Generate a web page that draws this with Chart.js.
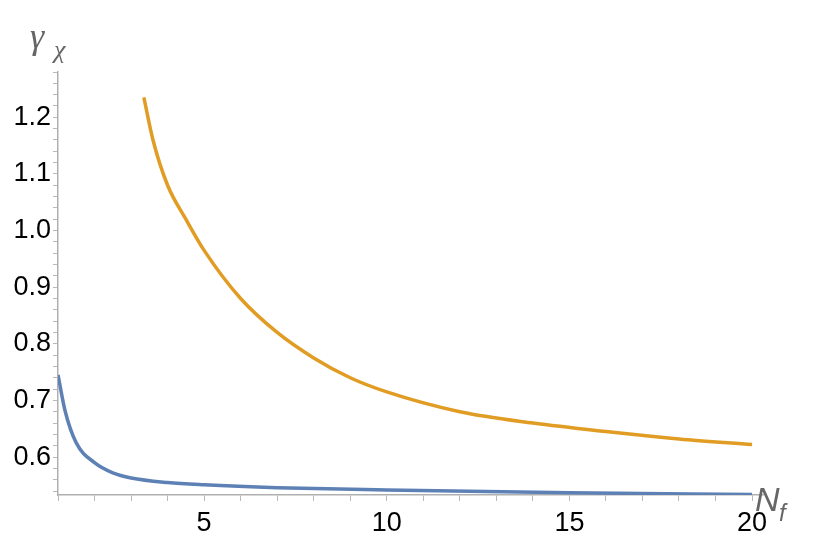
<!DOCTYPE html>
<html>
<head>
<meta charset="utf-8">
<script src="https://cdn.jsdelivr.net/npm/chart.js@4"></script>
<style>
  html, body { margin: 0; padding: 0; background: #fff; }
  #wrap { width: 830px; height: 546px; }
</style>
</head>
<body>
<div id="wrap"><canvas id="c" width="830" height="546"></canvas></div>
<script>
// Blue curve (lower)
const blueX = [1, 1.2, 1.5, 2, 2.5, 3, 4, 5, 7, 10, 15, 20];
const blueY = [0.745, 0.68, 0.625, 0.59, 0.572, 0.563, 0.555, 0.551, 0.546, 0.542, 0.537, 0.534];

// Orange curve (upper)
const orangeX = [3.35, 3.6, 4, 4.5, 5, 6, 7, 8, 9, 10, 12, 14, 16, 18, 20];
const orangeY = [1.235, 1.16, 1.08, 1.02, 0.965, 0.88, 0.82, 0.775, 0.74, 0.715, 0.68, 0.66, 0.645, 0.632, 0.622];

const xLabels = [5, 10, 15, 20];
const yLabels = [0.6, 0.7, 0.8, 0.9, 1.0, 1.1, 1.2];

function toPts(xs, ys) {
    return xs.map((x, i) => ({ x: x, y: ys[i] }));
}

// Axis titles drawn like Mathematica's AxesLabel
const axisTitles = {
    id: 'axisTitles',
    afterDraw(chart) {
        const ctx = chart.ctx;
        const a = chart.chartArea;
        ctx.save();
        ctx.fillStyle = '#666';
        ctx.font = 'italic 36px "Liberation Serif"';
        ctx.textBaseline = 'alphabetic';
        ctx.fillText('γ', a.left - 28, 48);
        ctx.font = 'italic 26px "Liberation Serif"';
        ctx.fillText('χ', a.left - 4, 58);
        ctx.font = 'italic 34px "Liberation Sans"';
        ctx.fillText('N', a.right - 8, a.bottom + 16);
        ctx.font = 'italic 24px "Liberation Sans"';
        ctx.fillText('f', a.right + 16, a.bottom + 26);
        ctx.restore();
    }
};

new Chart(document.getElementById('c'), {
    type: 'scatter',
    data: {
        datasets: [
            { data: toPts(blueX, blueY), showLine: true, borderColor: '#5e81b5', borderWidth: 3.5, pointRadius: 0, cubicInterpolationMode: 'monotone' },
            { data: toPts(orangeX, orangeY), showLine: true, borderColor: '#e19c24', borderWidth: 3.5, pointRadius: 0, cubicInterpolationMode: 'monotone' }
        ]
    },
    options: {
        responsive: false,
        animation: false,
        layout: { padding: { top: 72, right: 67, left: 0, bottom: 0 } },
        plugins: { legend: { display: false }, tooltip: { enabled: false } },
        scales: {
            x: {
                type: 'linear', min: 1, max: 20.3,
                afterFit: (s) => { s.height = 51; },
                afterBuildTicks: (s) => {
                    const t = [];
                    for (let v = 1; v <= 20; v++) t.push({ value: v });
                    s.ticks = t;
                },
                grid: { drawOnChartArea: false, color: '#b8b8b8', tickLength: 6 },
                border: { color: '#b0b0b0', width: 1.5 },
                ticks: {
                    color: '#000', font: { size: 27, family: 'Liberation Sans' }, padding: 6,
                    autoSkip: false, maxRotation: 0,
                    callback: (v) => xLabels.includes(v) ? String(v) : ''
                }
            },
            y: {
                type: 'linear', min: 0.533, max: 1.28,
                afterFit: (s) => { s.width = 58; },
                afterBuildTicks: (s) => {
                    const t = [];
                    for (let k = 27; k <= 64; k++) t.push({ value: k * 0.02 });
                    s.ticks = t;
                },
                grid: { drawOnChartArea: false, color: '#b8b8b8', tickLength: 5 },
                border: { color: '#b0b0b0', width: 1.5 },
                ticks: {
                    color: '#000', font: { size: 27, family: 'Liberation Sans' }, padding: 2,
                    autoSkip: false,
                    callback: (v) => {
                        const m = yLabels.find((l) => Math.abs(l - v) < 1e-6);
                        return m !== undefined ? m.toFixed(1) : '';
                    }
                }
            }
        }
    },
    plugins: [axisTitles]
});
</script>
</body>
</html>
